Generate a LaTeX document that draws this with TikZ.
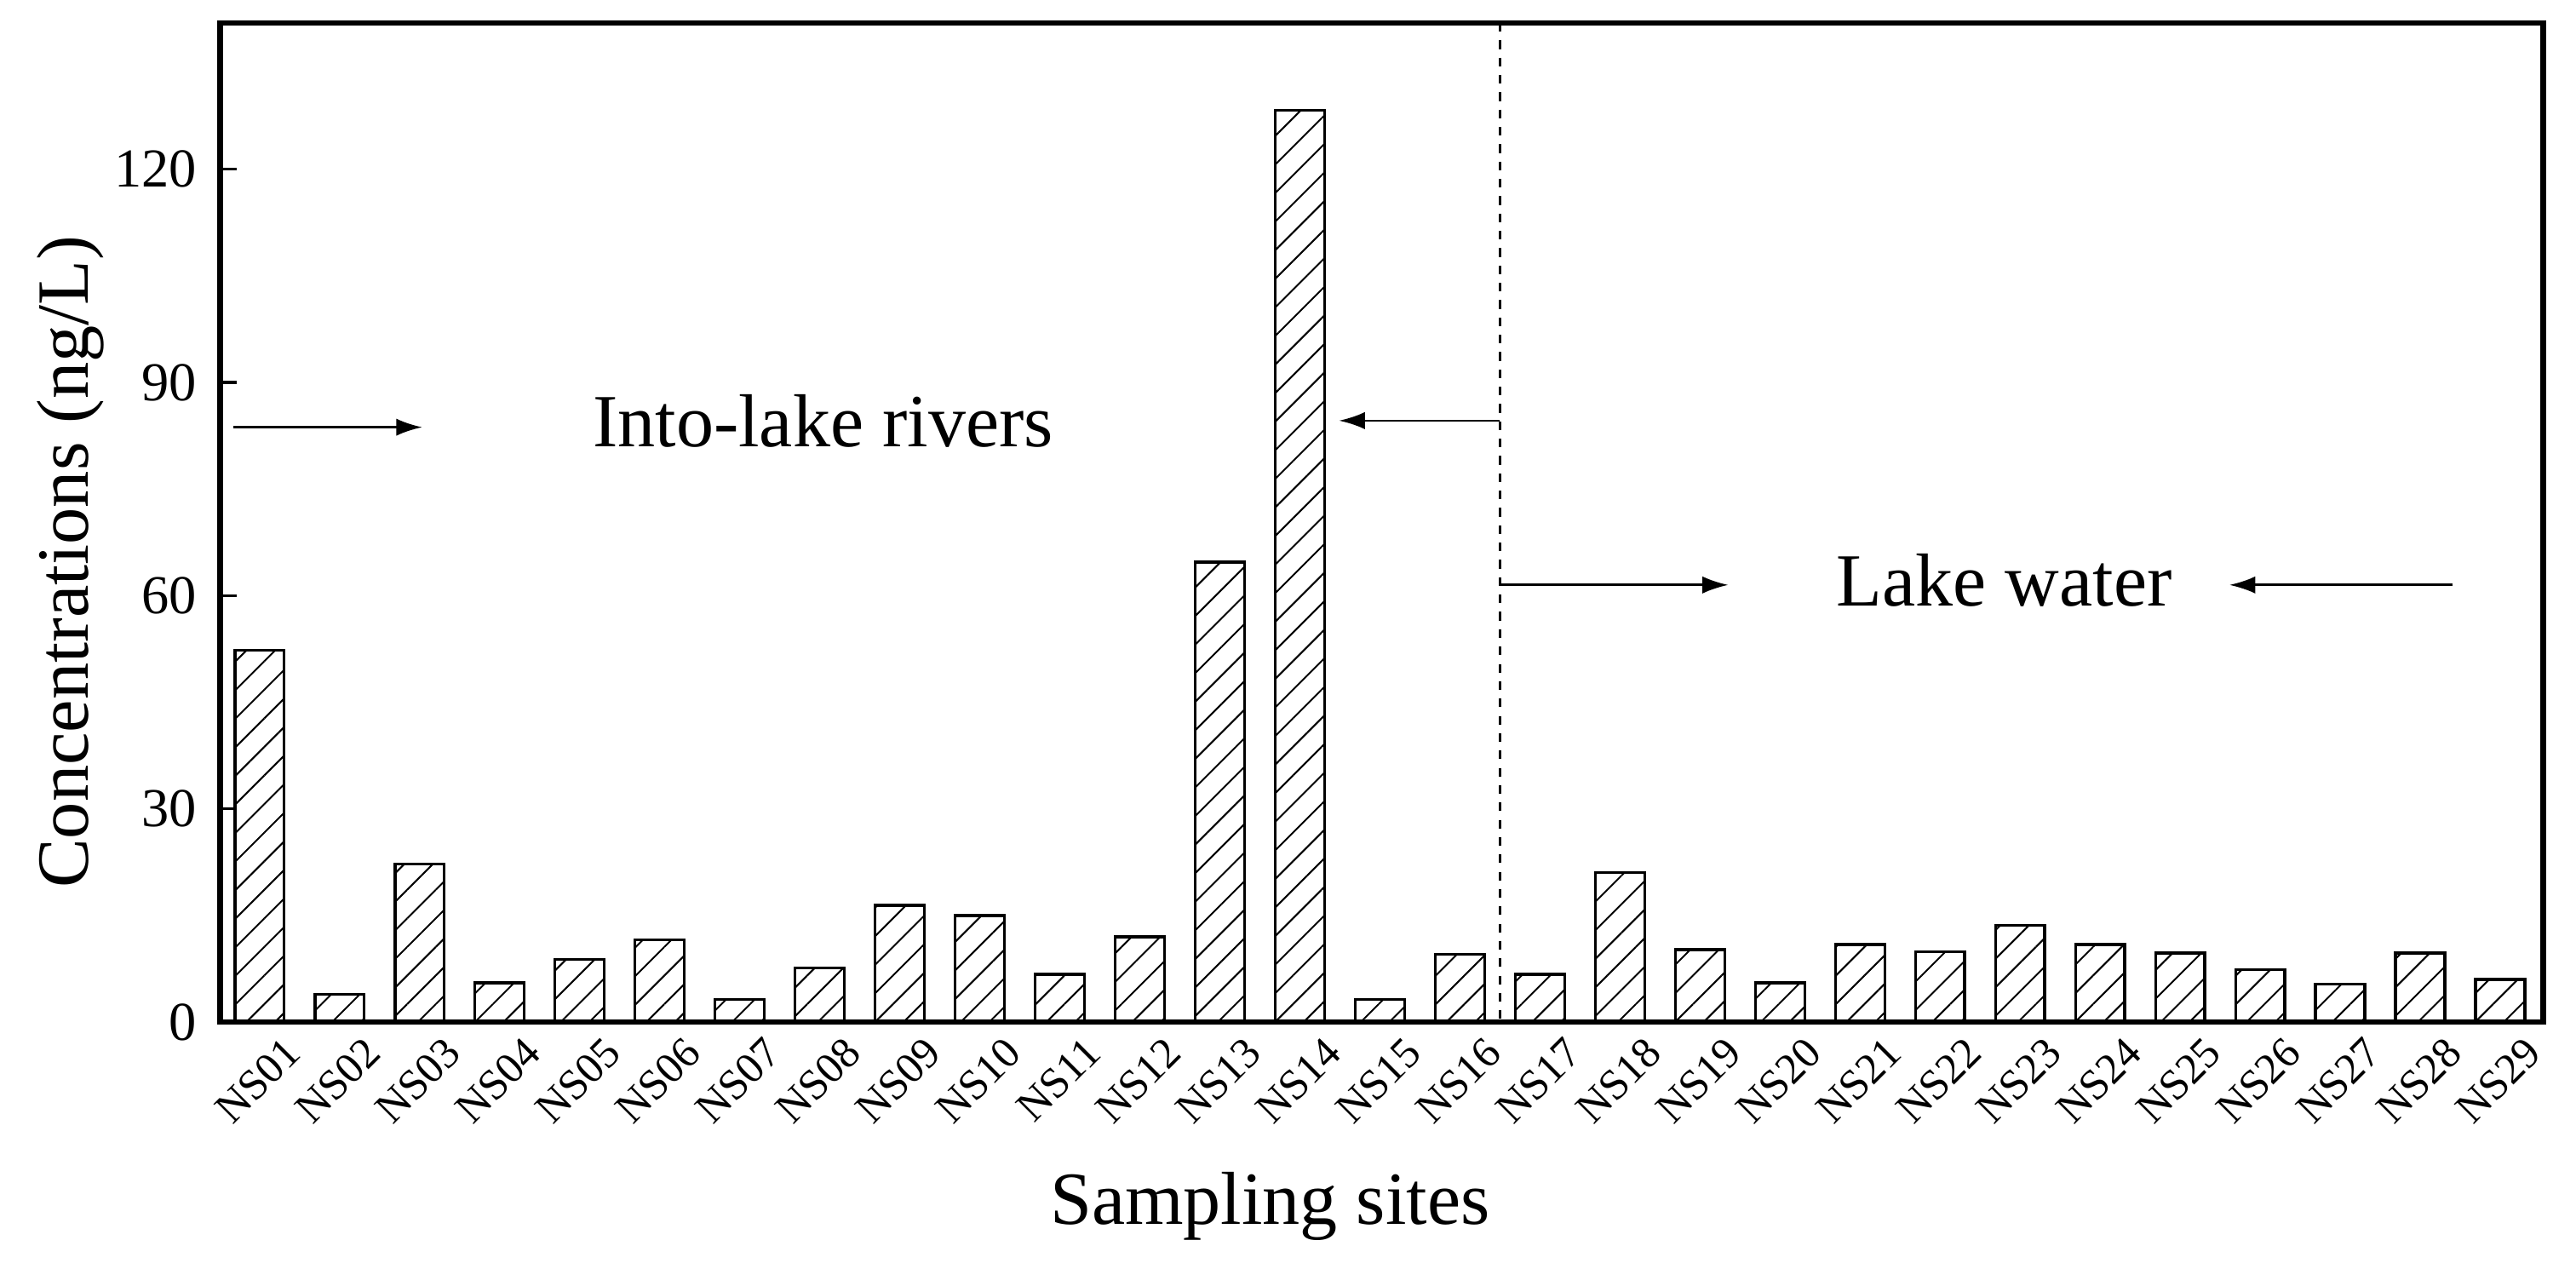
\documentclass[tikz,border=0pt]{standalone}
\usepackage{fontspec}
\setmainfont{Liberation Serif}
\usetikzlibrary{patterns.meta,arrows.meta}
\begin{document}
\begin{tikzpicture}[x=0.02cm,y=-0.02cm,
  bar/.style={draw,line width=1pt,pattern={Lines[angle=45,distance=7pt,line width=0.6pt]}},
  tick/.style={font=\fontsize{19}{19}\selectfont},
  xl/.style={font=\fontsize{15}{15}\selectfont,rotate=45,anchor=north east,inner sep=1pt},
  arr/.style={line width=0.8pt,-{Latex[length=9pt,width=6pt]}}]
\useasboundingbox (0,0) rectangle (1568,772);
\foreach \v [count=\i] in {52.3,3.9,22.2,5.5,8.8,11.6,3.2,7.6,16.4,15.0,6.7,12.0,64.7,128.3,3.2,9.5,6.7,21.0,10.2,5.5,10.9,9.9,13.6,10.9,9.7,7.4,5.3,9.7,6.0}{
  \pgfmathsetmacro\cx{158+48.71*(\i-1)}
  \pgfmathsetmacro\ty{622-4.325*\v}
  \draw[bar] (\cx-15,622) rectangle (\cx+15,\ty);
  \node[xl] at (\cx+14,627) {NS\ifnum\i<10 0\fi\i};
}
\draw[line width=2pt] (134,14) rectangle (1548,622);
\foreach \t in {0,30,60,90,120}{
  \pgfmathsetmacro\ty{622-4.325*\t}
  \draw[line width=1pt] (134,\ty) -- (144,\ty);
  \node[tick,anchor=east] at (126,\ty) {\t};
}
\node[rotate=90,font=\fontsize{25.5}{25.5}\selectfont] at (43,342) {Concentrations (ng/L)};
\node[font=\fontsize{26}{26}\selectfont] at (773,734) {Sampling sites};
\draw[dashed,line width=0.8pt] (913,14) -- (913,622);
\draw[arr] (142,260) -- (257,260);
\draw[arr] (913,256) -- (815,256);
\draw[arr] (913,356) -- (1052,356);
\draw[arr] (1493,356) -- (1357,356);
\node[font=\fontsize{26}{26}\selectfont] at (501,256) {Into-lake rivers};
\node[font=\fontsize{26}{26}\selectfont] at (1220,353) {Lake water};
\end{tikzpicture}
\end{document}
